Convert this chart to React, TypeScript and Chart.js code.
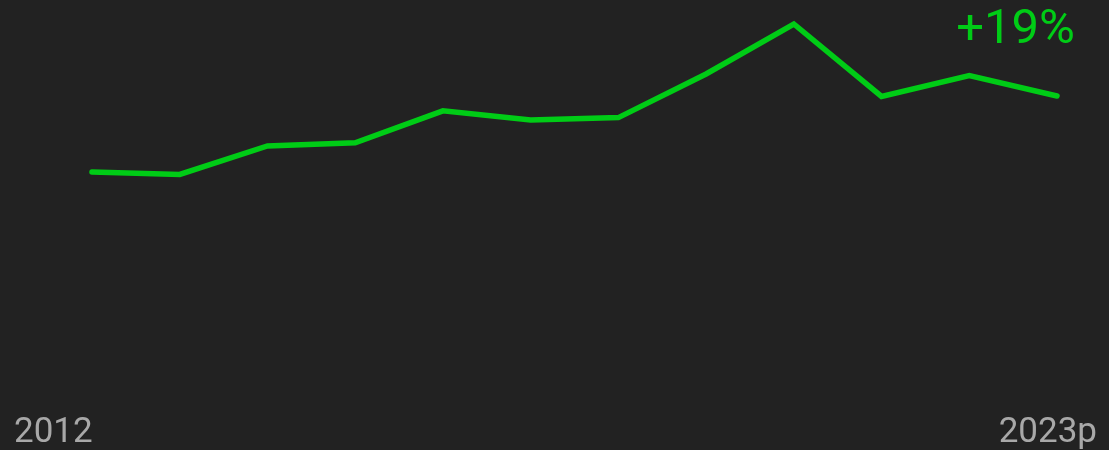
import React, { useEffect, useRef } from "react";
import { Chart, registerables } from "chart.js";

Chart.register(...registerables);

const categories = ["2012", "2013", "2014", "2015", "2016", "2017", "2018", "2019", "2020", "2021", "2022", "2023p"];
const values = [100, 99.4, 106.5, 107.3, 115.3, 113, 113.6, 124.5, 137, 118.9, 124.1, 119];
const firstLabel = "2012";
const lastLabel = "2023p";
const changeLabel = "+19%";

const GREEN = "#00cc16";
const BG = "#222222";

export default function App() {
  const ref = useRef<HTMLCanvasElement | null>(null);

  useEffect(() => {
    document.body.style.margin = "0";
    document.body.style.background = BG;
    const canvas = ref.current;
    if (!canvas) return;
    const chart = new Chart(canvas, {
      type: "line",
      data: {
        labels: categories,
        datasets: [
          {
            data: values,
            borderColor: GREEN,
            borderWidth: 5.5,
            borderCapStyle: "round",
            borderJoinStyle: "miter",
            pointRadius: 0,
            tension: 0,
            fill: false,
            clip: false as any,
          },
        ],
      },
      options: {
        animation: false,
        responsive: false,
        maintainAspectRatio: false,
        layout: { padding: { left: 92, right: 52, top: 0, bottom: 0 } },
        plugins: { legend: { display: false }, tooltip: { enabled: false } },
        scales: {
          x: { type: "category", offset: false, display: false },
          y: { display: false, min: 30.5, max: 143 },
        },
      },
    });
    return () => chart.destroy();
  }, []);

  return (
    <div style={{ position: "relative", width: 1109, height: 450, background: BG, overflow: "hidden" }}>
      <canvas ref={ref} width={1109} height={450} style={{ display: "block", width: 1109, height: 450 }} />
      <div
        style={{
          position: "absolute",
          left: 14,
          top: 412.6,
          fontFamily: "Roboto",
          fontSize: 35,
          lineHeight: "35px",
          color: "#a8a8a8",
          whiteSpace: "nowrap",
        }}
      >
        {firstLabel}
      </div>
      <div
        style={{
          position: "absolute",
          right: 12,
          top: 412.6,
          fontFamily: "Roboto",
          fontSize: 35,
          lineHeight: "35px",
          color: "#a8a8a8",
          whiteSpace: "nowrap",
        }}
      >
        {lastLabel}
      </div>
      <div
        style={{
          position: "absolute",
          right: 34,
          top: 2,
          fontFamily: "Roboto",
          fontSize: 49,
          lineHeight: "49px",
          color: GREEN,
          whiteSpace: "nowrap",
        }}
      >
        {changeLabel}
      </div>
    </div>
  );
}
